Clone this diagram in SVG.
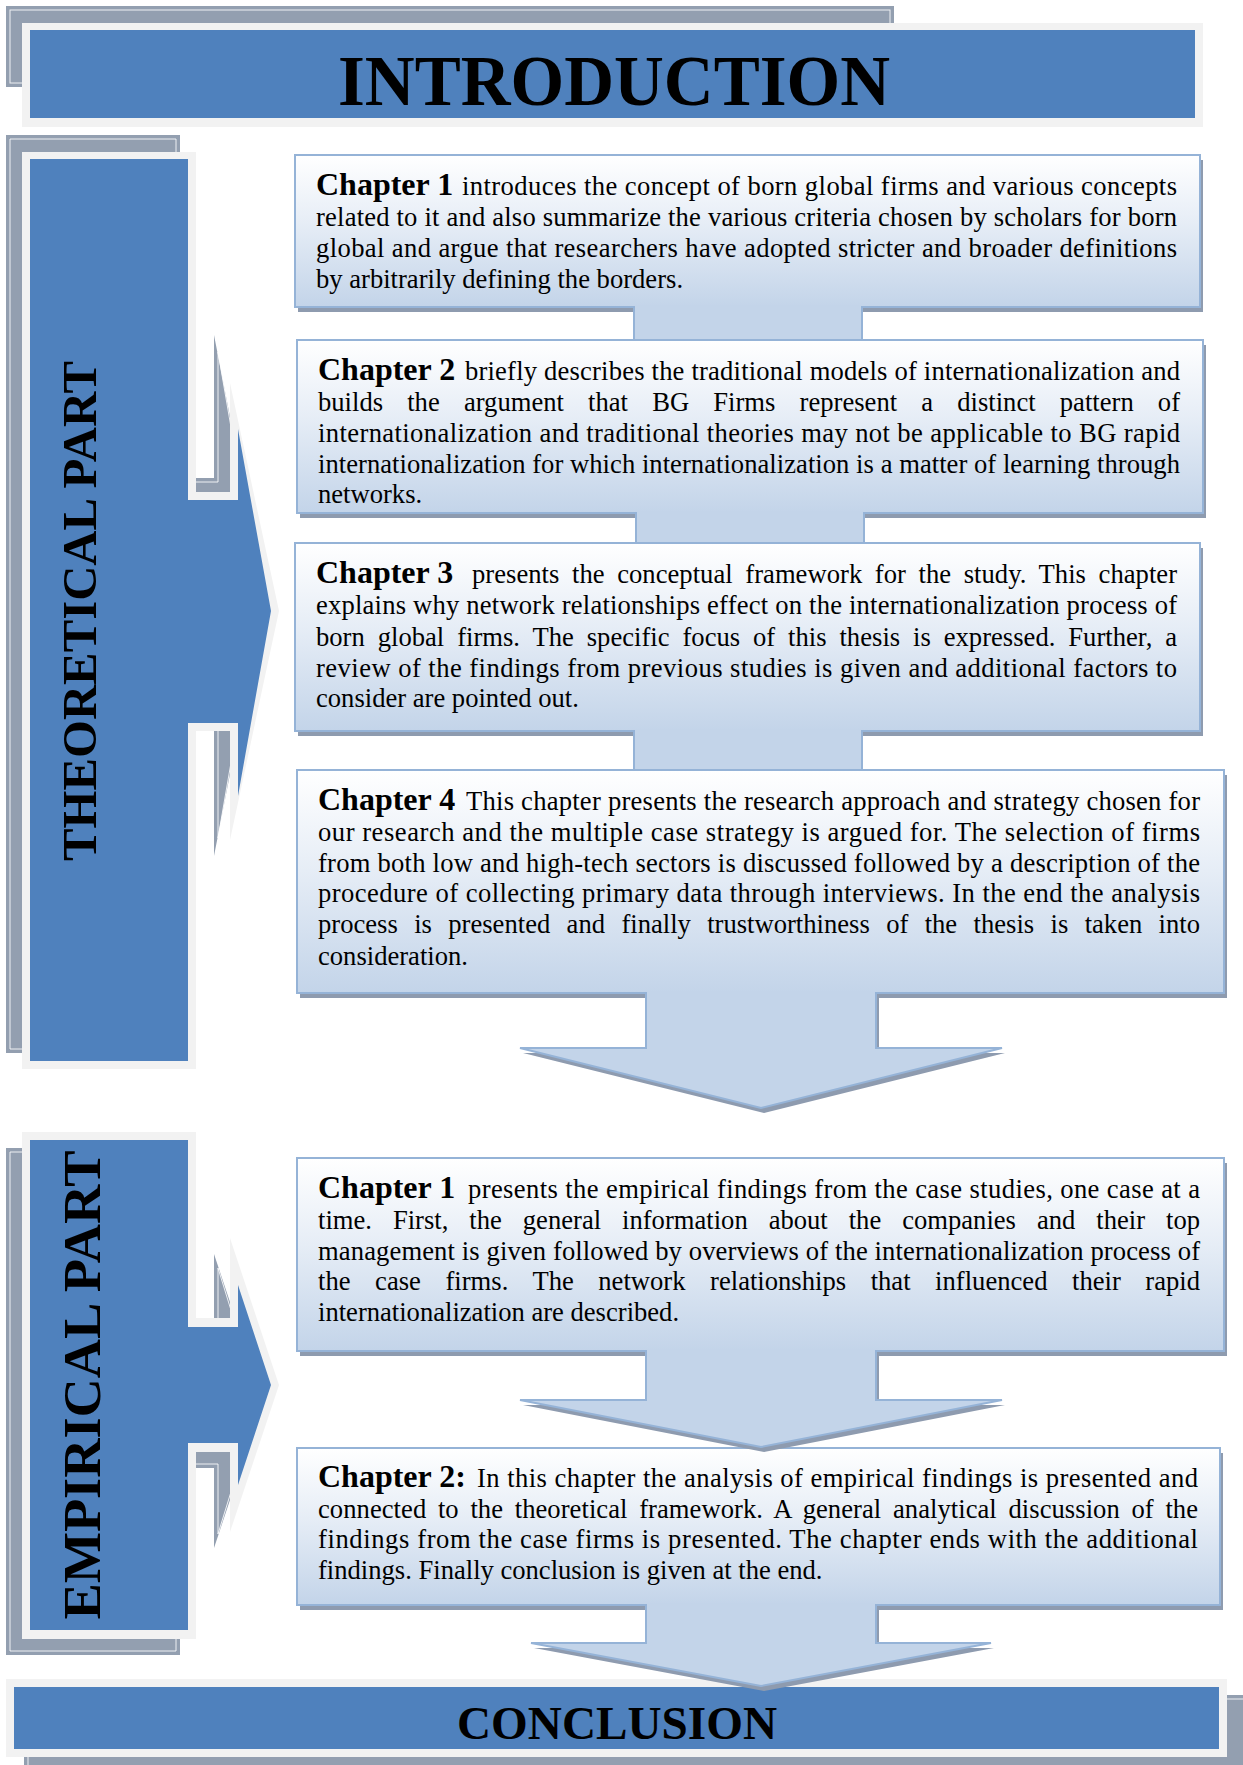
<svg xmlns="http://www.w3.org/2000/svg" width="1243" height="1765" viewBox="0 0 1243 1765">
<defs>
<linearGradient id="boxGrad" x1="0" y1="0" x2="0" y2="1">
<stop offset="0" stop-color="#FFFFFF"/>
<stop offset="0.45" stop-color="#E6EDF6"/>
<stop offset="1" stop-color="#C3D4E9"/>
</linearGradient>
<style>
.blue{fill:#4F81BD}
.light{fill:#F2F2F2}
.gray{fill:#939FB0}
.inset{fill:none;stroke:#FFFFFF;stroke-width:1;opacity:0.85}
.box{fill:url(#boxGrad);stroke:#95B3D7;stroke-width:2}
.shadow{fill:#8E9BAF}
.conn{fill:#C3D4E9}
.edge{fill:none;stroke:#95B3D7;stroke-width:2;stroke-linejoin:miter}
.t{font-family:"Liberation Serif","Times New Roman",serif;font-size:26.6px;fill:#000}
.h{font-family:"Liberation Serif","Times New Roman",serif;font-size:32px;font-weight:bold;fill:#000}
.title{font-family:"Liberation Serif","Times New Roman",serif;font-weight:bold;fill:#000}
</style>
</defs>
<rect x="0" y="0" width="1243" height="1765" fill="#FFFFFF"/>

<g id="introduction">
<rect class="gray" x="6" y="6" width="888" height="81"/>
<rect class="inset" x="10" y="10" width="880" height="73"/>
<rect class="light" x="22" y="23" width="1181" height="104"/>
<rect class="blue" x="30" y="30" width="1165" height="88"/>
<text class="title" x="338" y="105" font-size="71" textLength="552" lengthAdjust="spacingAndGlyphs">INTRODUCTION</text>
</g>

<g id="theoretical-part">
<polygon class="gray" points="6,135 180,135 180,478 214,478 214,335 265,595 214,856 214,710 180,710 180,1053 6,1053"/>
<polygon class="inset" points="10,139 176,139 176,482 218,482 218,352 260,595 218,838 218,706 176,706 176,1049 10,1049"/>
<polygon class="light" points="22,152 196,152 196,492 230,492 230,383 279,611 230,840 230,731 196,731 196,1069 22,1069"/>
<polygon class="blue" points="30,159 188,159 188,500 238,500 238,429 271,611 238,796 238,723 188,723 188,1061 30,1061"/>
<text class="title" transform="translate(96,611) rotate(-90)" x="0" y="0" font-size="48" text-anchor="middle" textLength="500" lengthAdjust="spacingAndGlyphs">THEORETICAL PART</text>
</g>

<g id="empirical-part">
<polygon class="gray" points="6,1148 180,1148 180,1334 214,1334 214,1254 263,1401 214,1548 214,1468 180,1468 180,1655 6,1655"/>
<polygon class="inset" points="10,1152 176,1152 176,1338 218,1338 218,1268 259,1401 218,1534 218,1464 176,1464 176,1651 10,1651"/>
<polygon class="light" points="22,1132 196,1132 196,1318 230,1318 230,1238 279,1385 230,1532 230,1452 196,1452 196,1639 22,1639"/>
<polygon class="blue" points="30,1140 188,1140 188,1327 238,1327 238,1285 271,1385 238,1485 238,1443 188,1443 188,1630 30,1630"/>
<text class="title" transform="translate(100,1385) rotate(-90)" x="0" y="0" font-size="53" text-anchor="middle" textLength="469" lengthAdjust="spacingAndGlyphs">EMPIRICAL PART</text>
</g>

<g id="conclusion">
<rect class="gray" x="24" y="1695" width="1225" height="80"/>
<rect class="inset" x="28" y="1699" width="1217" height="72"/>
<rect class="light" x="6" y="1679" width="1221" height="78"/>
<rect class="blue" x="14" y="1687" width="1205" height="62"/>
<text class="title" x="457" y="1739" font-size="47" textLength="320" lengthAdjust="spacingAndGlyphs">CONCLUSION</text>
</g>

<g id="theo-chapter-1">
<rect class="shadow" x="298" y="160" width="905" height="152"/>
<rect class="box" x="295" y="155" width="905" height="152"/>
<text class="h" x="316" y="195">Chapter 1</text>
<text class="t" x="462" y="195" textLength="715" lengthAdjust="spacing">introduces the concept of born global firms and various concepts</text>
<text class="t" x="316" y="226" textLength="861" lengthAdjust="spacing">related to it and also summarize the various criteria chosen by scholars for born</text>
<text class="t" x="316" y="257" textLength="861" lengthAdjust="spacing">global and argue that researchers have adopted stricter and broader definitions</text>
<text class="t" x="316" y="288">by arbitrarily defining the borders.</text>
</g>

<g id="theo-chapter-2">
<rect class="shadow" x="300" y="345" width="906" height="173"/>
<rect class="box" x="297" y="340" width="906" height="173"/>
<text class="h" x="318" y="380">Chapter 2</text>
<text class="t" x="465" y="380" textLength="715" lengthAdjust="spacing">briefly describes the traditional models of internationalization and</text>
<text class="t" x="318" y="411" textLength="862" lengthAdjust="spacing" style="word-spacing:17.5px">builds the argument that BG Firms represent a distinct pattern of</text>
<text class="t" x="318" y="442" textLength="862" lengthAdjust="spacing">internationalization and traditional theories may not be applicable to BG rapid</text>
<text class="t" x="318" y="473" textLength="862" lengthAdjust="spacing">internationalization for which internationalization is a matter of learning through</text>
<text class="t" x="318" y="503">networks.</text>
</g>

<g id="theo-chapter-3">
<rect class="shadow" x="298" y="548" width="905" height="188"/>
<rect class="box" x="295" y="543" width="905" height="188"/>
<text class="h" x="316" y="583">Chapter 3</text>
<text class="t" x="472" y="583" textLength="705" lengthAdjust="spacing" style="word-spacing:5.9px">presents the conceptual framework for the study. This chapter</text>
<text class="t" x="316" y="614" textLength="861" lengthAdjust="spacing">explains why network relationships effect on the internationalization process of</text>
<text class="t" x="316" y="646" textLength="861" lengthAdjust="spacing" style="word-spacing:6.2px">born global firms. The specific focus of this thesis is expressed. Further, a</text>
<text class="t" x="316" y="677" textLength="861" lengthAdjust="spacing">review of the findings from previous studies is given and additional factors to</text>
<text class="t" x="316" y="707">consider are pointed out.</text>
</g>

<g id="theo-chapter-4">
<rect class="shadow" x="300" y="775" width="927" height="223"/>
<rect class="box" x="297" y="770" width="927" height="223"/>
<text class="h" x="318" y="810">Chapter 4</text>
<text class="t" x="466" y="810" textLength="734" lengthAdjust="spacing">This chapter presents the research approach and strategy chosen for</text>
<text class="t" x="318" y="841" textLength="882" lengthAdjust="spacing">our research and the multiple case strategy is argued for. The selection of firms</text>
<text class="t" x="318" y="872" textLength="882" lengthAdjust="spacing">from both low and high-tech sectors is discussed followed by a description of the</text>
<text class="t" x="318" y="902" textLength="882" lengthAdjust="spacing">procedure of collecting primary data through interviews. In the end the analysis</text>
<text class="t" x="318" y="933" textLength="882" lengthAdjust="spacing" style="word-spacing:9.7px">process is presented and finally trustworthiness of the thesis is taken into</text>
<text class="t" x="318" y="965">consideration.</text>
</g>

<g id="emp-chapter-1">
<rect class="shadow" x="300" y="1163" width="927" height="193"/>
<rect class="box" x="297" y="1158" width="927" height="193"/>
<text class="h" x="318" y="1198">Chapter 1</text>
<text class="t" x="468" y="1198" textLength="732" lengthAdjust="spacing">presents the empirical findings from the case studies, one case at a</text>
<text class="t" x="318" y="1229" textLength="882" lengthAdjust="spacing" style="word-spacing:14.3px">time. First, the general information about the companies and their top</text>
<text class="t" x="318" y="1260" textLength="882" lengthAdjust="spacing">management is given followed by overviews of the internationalization process of</text>
<text class="t" x="318" y="1290" textLength="882" lengthAdjust="spacing" style="word-spacing:17.9px">the case firms. The network relationships that influenced their rapid</text>
<text class="t" x="318" y="1321">internationalization are described.</text>
</g>

<g id="emp-chapter-2">
<rect class="shadow" x="300" y="1453" width="923" height="157"/>
<rect class="box" x="297" y="1448" width="923" height="157"/>
<text class="h" x="318" y="1487">Chapter 2:</text>
<text class="t" x="477" y="1487" textLength="721" lengthAdjust="spacing">In this chapter the analysis of empirical findings is presented and</text>
<text class="t" x="318" y="1518" textLength="880" lengthAdjust="spacing" style="word-spacing:5px">connected to the theoretical framework. A general analytical discussion of the</text>
<text class="t" x="318" y="1548" textLength="880" lengthAdjust="spacing">findings from the case firms is presented. The chapter ends with the additional</text>
<text class="t" x="318" y="1579">findings. Finally conclusion is given at the end.</text>
</g>

<g id="connectors">
<rect class="conn" x="634" y="305" width="228" height="34"/>
<path class="edge" d="M634,306 V339 M862,306 V339"/>
<rect class="conn" x="636" y="511" width="228" height="31"/>
<path class="edge" d="M636,512 V542 M864,512 V542"/>
<rect class="conn" x="634" y="729" width="228" height="40"/>
<path class="edge" d="M634,730 V769 M862,730 V769"/>

<polygon class="shadow" points="649,996 649,1053 523,1053 764,1113 1005,1053 879,1053 879,996"/>
<polygon class="conn" points="646,991 646,1048 520,1048 761,1108 1002,1048 876,1048 876,991"/>
<polyline class="edge" points="646,992 646,1048 520,1048 761,1108 1002,1048 876,1048 876,992"/>

<polygon class="shadow" points="649,1356 649,1405 523,1405 764,1452 1005,1405 879,1405 879,1356"/>
<polygon class="conn" points="646,1349 646,1400 520,1400 761,1447 1002,1400 876,1400 876,1349"/>
<polyline class="edge" points="646,1350 646,1400 520,1400 761,1447 1002,1400 876,1400 876,1350"/>

<polygon class="shadow" points="649,1608 649,1648 534,1648 764,1691 994,1648 879,1648 879,1608"/>
<polygon class="conn" points="646,1603 646,1643 531,1643 761,1686 991,1643 876,1643 876,1603"/>
<polyline class="edge" points="646,1604 646,1643 531,1643 761,1686 991,1643 876,1643 876,1604"/>
</g>
</svg>
